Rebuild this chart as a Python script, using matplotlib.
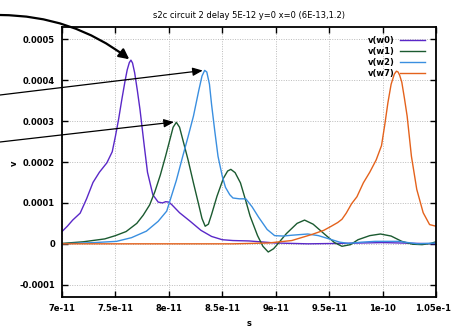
import numpy as np
import matplotlib
matplotlib.use("Agg")
import matplotlib.pyplot as plt
from matplotlib.ticker import FixedLocator, FixedFormatter

# ---- data (time in units of 1e-11 s, voltage in units of 1e-4) ----
t_w0 = [7.00, 7.05, 7.10, 7.17, 7.23, 7.29, 7.35, 7.42, 7.47, 7.50, 7.53, 7.56, 7.59,
        7.61, 7.63, 7.645, 7.66, 7.68, 7.705, 7.73, 7.77, 7.80, 7.85, 7.90, 7.94, 7.97,
        8.00, 8.03, 8.10, 8.20, 8.30, 8.40, 8.50, 8.60, 8.75, 9.00, 9.30, 9.60, 10.0, 10.5]
v_w0 = [0.30, 0.43, 0.58, 0.75, 1.10, 1.50, 1.75, 1.98, 2.25, 2.63, 3.05, 3.53, 3.98,
        4.25, 4.43, 4.49, 4.42, 4.18, 3.75, 3.28, 2.39, 1.75, 1.20, 1.02, 1.00, 1.03,
        1.02, 0.95, 0.76, 0.55, 0.33, 0.18, 0.10, 0.08, 0.07, 0.02, 0.00, 0.01, 0.03, 0.00]

t_w1 = [7.0, 7.2, 7.4, 7.5, 7.6, 7.7, 7.76, 7.82, 7.87, 7.92, 7.97, 8.01, 8.04, 8.07,
        8.10, 8.13, 8.18, 8.23, 8.28, 8.31, 8.34, 8.37, 8.40, 8.45, 8.51, 8.55, 8.58,
        8.62, 8.67, 8.72, 8.76, 8.83, 8.88, 8.93, 8.98, 9.02, 9.10, 9.20, 9.27, 9.35,
        9.46, 9.55, 9.62, 9.70, 9.77, 9.88, 9.98, 10.08, 10.18, 10.28, 10.37, 10.45, 10.5]
v_w1 = [0.01, 0.05, 0.12, 0.20, 0.30, 0.50, 0.70, 0.95, 1.28, 1.68, 2.15, 2.55, 2.85, 2.97,
        2.85, 2.55, 2.05, 1.49, 0.95, 0.62, 0.43, 0.48, 0.72, 1.16, 1.60, 1.78, 1.82,
        1.74, 1.49, 1.05, 0.68, 0.20, -0.06, -0.20, -0.12, 0.00, 0.25, 0.50, 0.58, 0.48,
        0.23, 0.03, -0.06, -0.02, 0.10, 0.20, 0.24, 0.19, 0.06, -0.01, -0.02, 0.01, 0.05]

t_w2 = [7.0, 7.3, 7.51, 7.65, 7.79, 7.90, 7.98, 8.01, 8.07, 8.13, 8.18, 8.23, 8.28, 8.31,
        8.335, 8.355, 8.38, 8.40, 8.43, 8.46, 8.50, 8.53, 8.57, 8.60, 8.66, 8.72, 8.78,
        8.84, 8.92, 8.99, 9.07, 9.15, 9.30, 9.40, 9.50, 9.60, 9.68, 9.80, 9.93, 10.15,
        10.33, 10.5]
v_w2 = [0.00, 0.03, 0.06, 0.15, 0.31, 0.55, 0.80, 1.05, 1.55, 2.14, 2.62, 3.12, 3.75,
        4.10, 4.24, 4.20, 3.90, 3.40, 2.75, 2.14, 1.65, 1.38, 1.20, 1.12, 1.10, 1.10,
        0.90, 0.65, 0.35, 0.20, 0.19, 0.21, 0.24, 0.20, 0.12, 0.04, 0.01, 0.04, 0.06,
        0.06, 0.00, 0.02]

t_w7 = [7.0, 8.0, 8.6, 8.93, 9.15, 9.34, 9.45, 9.52, 9.58, 9.62, 9.66, 9.71, 9.76,
        9.82, 9.88, 9.94, 9.99, 10.02, 10.05, 10.08, 10.11, 10.13, 10.145, 10.16, 10.18,
        10.205, 10.23, 10.27, 10.32, 10.38, 10.44, 10.5]
v_w7 = [0.00, 0.00, 0.00, 0.02, 0.08, 0.23, 0.33, 0.43, 0.52, 0.60, 0.75, 0.98, 1.15,
        1.49, 1.75, 2.05, 2.40, 2.90, 3.45, 3.90, 4.15, 4.22, 4.20, 4.12, 3.95,
        3.55, 3.12, 2.14, 1.33, 0.76, 0.47, 0.43]

series = [("v(w0)", t_w0, v_w0, "#5a28c8"),
          ("v(w1)", t_w1, v_w1, "#1b5a30"),
          ("v(w2)", t_w2, v_w2, "#3a8fe0"),
          ("v(w7)", t_w7, v_w7, "#e4621c")]

x_ticks = [7.0e-11, 7.5e-11, 8.0e-11, 8.5e-11, 9.0e-11, 9.5e-11, 1.0e-10, 1.05e-10]
x_labels = ["7e-11", "7.5e-11", "8e-11", "8.5e-11", "9e-11", "9.5e-11", "1e-10", "1.05e-10"]
y_ticks = [-0.0001, 0, 0.0001, 0.0002, 0.0003, 0.0004, 0.0005]
y_labels = ["-0.0001", "0", "0.0001", "0.0002", "0.0003", "0.0004", "0.0005"]

title = "s2c circuit 2 delay 5E-12 y=0 x=0 (6E-13,1.2)"

# ---- figure ----
W, H = 451, 329
fig = plt.figure(figsize=(W / 100, H / 100), dpi=100)
ax = fig.add_axes([62 / W, 1 - 297 / H, (436 - 62) / W, (297 - 27) / H])

for name, t, v, c in series:
    ax.plot(np.array(t) * 1e-11, np.array(v) * 1e-4, color=c, lw=1.0, label=name,
            solid_joinstyle="round")

ax.set_xlim(7e-11, 1.05e-10)
ax.set_ylim(-0.00013, 0.00053)
ax.xaxis.set_major_locator(FixedLocator(x_ticks))
ax.xaxis.set_major_formatter(FixedFormatter(x_labels))
ax.yaxis.set_major_locator(FixedLocator(y_ticks))
ax.yaxis.set_major_formatter(FixedFormatter(y_labels))
ax.tick_params(direction="in", length=4, width=1, top=True, right=True,
               labelsize=6, pad=5)
for lbl in ax.get_xticklabels() + ax.get_yticklabels():
    lbl.set_fontweight("bold")
ax.grid(True, color="#bbbbbb", linestyle=(0, (1, 1.5)), lw=0.7)
for s in ax.spines.values():
    s.set_linewidth(1.3)

fig.text(249 / W, 1 - 15 / H, title, fontsize=6, ha="center", va="center")
fig.text(14 / W, 1 - 163 / H, "v", fontsize=6, fontweight="bold", rotation=90,
         ha="center", va="center")
fig.text(249 / W, 1 - 323 / H, "s", fontsize=6, fontweight="bold",
         ha="center", va="center")

leg = ax.legend(loc="upper right", frameon=False, markerfirst=False, fontsize=6,
                handlelength=3.0, handletextpad=0.6, labelspacing=0.25,
                borderaxespad=0.3, bbox_to_anchor=(0.985, 0.99))
for txt in leg.get_texts():
    txt.set_fontweight("bold")
    txt.set_ha("right")

# ---- annotation arrows ----
ax.annotate("", xy=(7.64e-11, 0.000449), xycoords="data",
            xytext=(0, H - 15), textcoords="figure pixels",
            arrowprops=dict(arrowstyle="-|>,head_length=0.6,head_width=0.3",
                            color="black", lw=1.6,
                            connectionstyle="arc3,rad=-0.17",
                            shrinkA=0, shrinkB=1),
            annotation_clip=False)
ax.annotate("", xy=(8.33e-11, 0.000424), xycoords="data",
            xytext=(0, H - 95), textcoords="figure pixels",
            arrowprops=dict(arrowstyle="-|>,head_length=0.6,head_width=0.25",
                            color="black", lw=0.9, shrinkA=0, shrinkB=1),
            annotation_clip=False)
ax.annotate("", xy=(8.06e-11, 0.000298), xycoords="data",
            xytext=(0, H - 142), textcoords="figure pixels",
            arrowprops=dict(arrowstyle="-|>,head_length=0.6,head_width=0.25",
                            color="black", lw=0.9, shrinkA=0, shrinkB=1),
            annotation_clip=False)

fig.savefig("out.png", dpi=100)
